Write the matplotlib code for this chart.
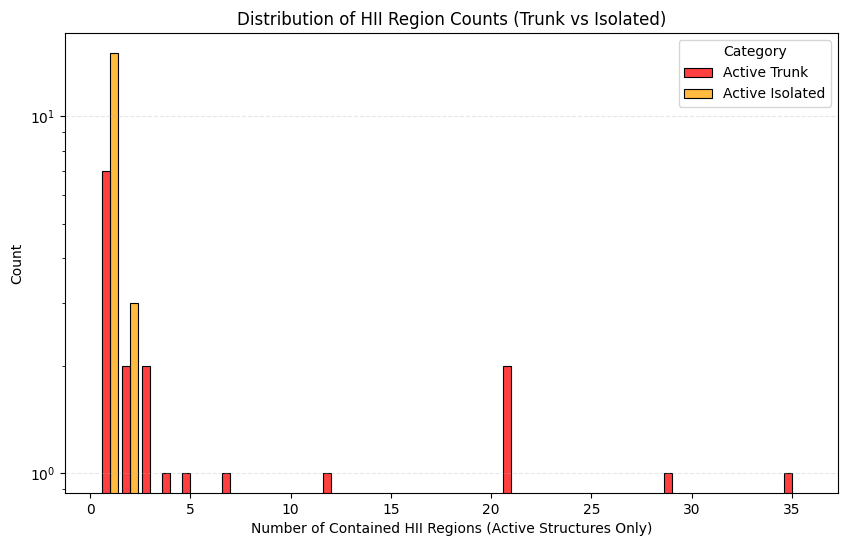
import numpy as np
import pandas as pd
import matplotlib
matplotlib.use('Agg')
import matplotlib.pyplot as plt
import seaborn as sns

# number of contained HII regions and how many structures have it
trunk_n = [1, 2, 3, 4, 5, 7, 12, 21, 29, 35]
trunk_count = [7, 2, 2, 1, 1, 1, 1, 2, 1, 1]
isolated_n = [1, 2]
isolated_count = [15, 3]

categories = ['Active Trunk', 'Active Isolated']
palette = {'Active Trunk': 'red', 'Active Isolated': 'orange'}


def main():
    df = pd.DataFrame({
        'n_hii': np.concatenate([np.repeat(trunk_n, trunk_count),
                                 np.repeat(isolated_n, isolated_count)]),
        'Category': ['Active Trunk'] * sum(trunk_count)
                    + ['Active Isolated'] * sum(isolated_count),
    })

    fig, ax = plt.subplots(figsize=(8.49, 5.47), dpi=100)
    sns.histplot(data=df, x='n_hii', hue='Category', hue_order=categories,
                 multiple='dodge', discrete=True, shrink=0.8,
                 palette=palette, alpha=0.75, edgecolor='black',
                 linewidth=0.8, ax=ax)
    ax.set_yscale('log')
    ax.set_xlim(-1.25, 37.3)
    ax.set_ylim(0.879, 17.1)
    ax.grid(axis='y', linestyle='--', alpha=0.3)
    ax.set_title('Distribution of HII Region Counts (Trunk vs Isolated)')
    ax.set_xlabel('Number of Contained HII Regions (Active Structures Only)')
    ax.set_ylabel('Count')

    fig.subplots_adjust(left=0.0766, right=0.987, top=0.9397, bottom=0.0987)
    fig.savefig('out.png', dpi=100)


if __name__ == '__main__':
    main()
